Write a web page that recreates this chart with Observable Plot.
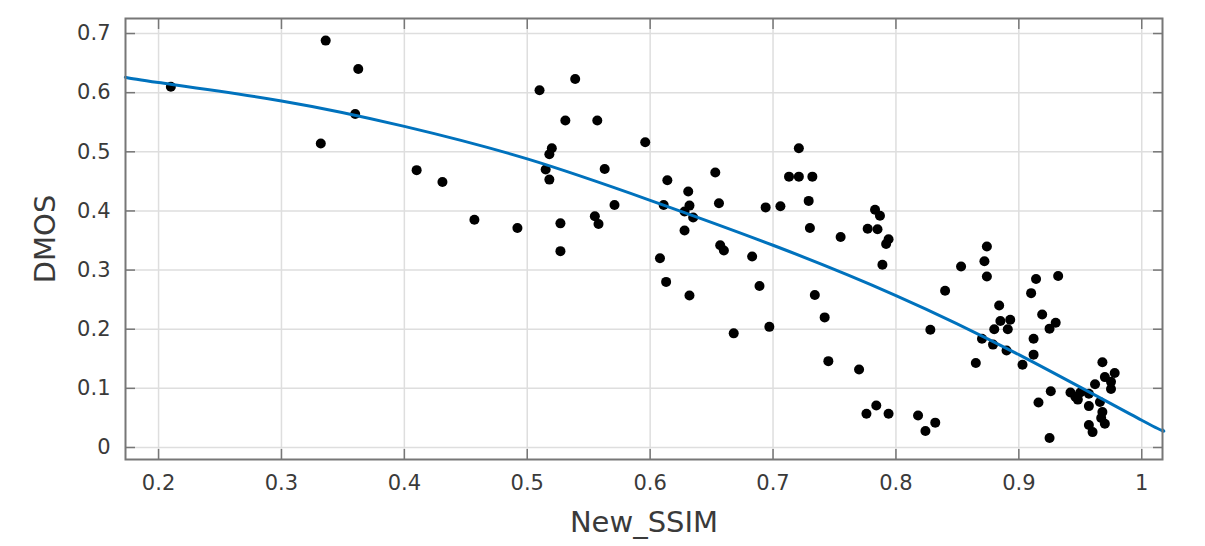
<!DOCTYPE html>
<html>
<head>
<meta charset="utf-8">
<script src="https://cdn.jsdelivr.net/npm/d3@7"></script>
<script src="https://cdn.jsdelivr.net/npm/@observablehq/plot@0.6"></script>
<style>
  html, body { margin: 0; padding: 0; background: #ffffff; }
  #chart svg {
    display: block;
    background:
      linear-gradient(#ffffff, #ffffff) top left / 100% 6px no-repeat,
      linear-gradient(#ffffff, #ffffff) top left / 7px 100% no-repeat,
      linear-gradient(#9a9a9a, #9a9a9a) bottom left / 100% 3px no-repeat,
      #f0f0f0;
  }
</style>
</head>
<body>
<div id="chart"></div>
<script>
// Scatter data: New_SSIM (x) vs DMOS (y)
const ssim = [
  0.210, 0.336, 0.3625, 0.360, 0.332, 0.410, 0.431, 0.457, 0.492, 0.510,
  0.539, 0.531, 0.557, 0.596, 0.520, 0.518, 0.515, 0.518, 0.563, 0.571,
  0.527, 0.555, 0.558, 0.527, 0.608, 0.614, 0.611, 0.631, 0.632, 0.628,
  0.635, 0.628, 0.653, 0.656, 0.657, 0.660, 0.613, 0.632, 0.683, 0.689,
  0.668, 0.697, 0.694, 0.706, 0.721, 0.713, 0.721, 0.732, 0.729, 0.730,
  0.734, 0.742, 0.755, 0.783, 0.787, 0.777, 0.785, 0.794, 0.792, 0.789,
  0.745, 0.770, 0.776, 0.784, 0.794, 0.818, 0.824, 0.832, 0.828, 0.840,
  0.853, 0.874, 0.872, 0.874, 0.884, 0.885, 0.893, 0.880, 0.891, 0.870,
  0.879, 0.890, 0.865, 0.903, 0.910, 0.914, 0.932, 0.919, 0.925, 0.930,
  0.912, 0.912, 0.926, 0.916, 0.925, 0.942, 0.946, 0.950, 0.948, 0.957,
  0.957, 0.962, 0.968, 0.970, 0.978, 0.975, 0.975, 0.966, 0.968, 0.967,
  0.970, 0.957, 0.960
];
const dmos = [
  0.610, 0.688, 0.640, 0.564, 0.514, 0.469, 0.449, 0.385, 0.371, 0.604,
  0.623, 0.553, 0.553, 0.516, 0.506, 0.496, 0.470, 0.453, 0.471, 0.410,
  0.379, 0.391, 0.378, 0.332, 0.320, 0.452, 0.410, 0.433, 0.409, 0.399,
  0.389, 0.367, 0.465, 0.413, 0.342, 0.333, 0.280, 0.257, 0.323, 0.273,
  0.193, 0.204, 0.406, 0.408, 0.506, 0.458, 0.458, 0.458, 0.417, 0.371,
  0.258, 0.220, 0.356, 0.402, 0.392, 0.370, 0.369, 0.352, 0.344, 0.309,
  0.146, 0.132, 0.057, 0.071, 0.057, 0.054, 0.028, 0.042, 0.199, 0.265,
  0.306, 0.340, 0.315, 0.289, 0.240, 0.214, 0.216, 0.200, 0.200, 0.184,
  0.174, 0.164, 0.143, 0.140, 0.261, 0.285, 0.290, 0.225, 0.201, 0.211,
  0.184, 0.157, 0.095, 0.076, 0.016, 0.093, 0.086, 0.093, 0.081, 0.070,
  0.091, 0.107, 0.144, 0.119, 0.126, 0.111, 0.099, 0.077, 0.060, 0.050,
  0.040, 0.038, 0.026
];

// Fitted curve
const fitX = [0.173, 0.2, 0.3, 0.4, 0.5, 0.6, 0.7, 0.8, 0.9, 1.0, 1.017];
const fitY = [0.626, 0.617, 0.586, 0.543, 0.488, 0.418, 0.342, 0.257, 0.157, 0.046, 0.030];

// Axis ticks
const xTicks = [0.2, 0.3, 0.4, 0.5, 0.6, 0.7, 0.8, 0.9, 1];
const yTicks = [0, 0.1, 0.2, 0.3, 0.4, 0.5, 0.6, 0.7];
const xLabel = "New_SSIM";
const yLabel = "DMOS";

const points = ssim.map((x, i) => ({x, y: dmos[i]}));
const fit = fitX.map((x, i) => ({x, y: fitY[i]}));

const axisColor = "#777777";
const textColor = "#3a3a3a";
const gridColor = "#dedede";
const fmt = d => String(d);

const chart = Plot.plot({
  width: 1205,
  height: 546,
  marginLeft: 125,
  marginRight: 43,
  marginTop: 18,
  marginBottom: 87,
  style: {fontFamily: "DejaVu Sans", fontSize: "21px", color: textColor, background: "transparent"},
  x: {domain: [0.1731, 1.0169]},
  y: {domain: [-0.0203, 0.7254]},
  marks: [
    Plot.frame({fill: "white", stroke: "none"}),
    Plot.gridX(xTicks, {stroke: gridColor, strokeOpacity: 1, strokeWidth: 1.5}),
    Plot.gridY(yTicks, {stroke: gridColor, strokeOpacity: 1, strokeWidth: 1.5}),
    Plot.dot(points, {x: "x", y: "y", r: 5, fill: "black", stroke: "none"}),
    Plot.line(fit, {x: "x", y: "y", curve: "natural", stroke: "#0072BD", strokeWidth: 3}),
    Plot.frame({stroke: axisColor, strokeWidth: 2}),
    Plot.axisX(xTicks, {anchor: "bottom", tickSize: -10, tickPadding: 26, tickFormat: fmt, stroke: axisColor, strokeWidth: 1.5, fill: textColor, fontSize: 21, label: null}),
    Plot.axisX(xTicks, {anchor: "top", tickSize: -10, tickFormat: () => "", stroke: axisColor, strokeWidth: 1.5, label: null}),
    Plot.axisY(yTicks, {anchor: "left", tickSize: -10, tickPadding: 25, tickFormat: fmt, stroke: axisColor, strokeWidth: 1.5, fill: textColor, fontSize: 21, label: null}),
    Plot.axisY(yTicks, {anchor: "right", tickSize: -10, tickFormat: () => "", stroke: axisColor, strokeWidth: 1.5, label: null}),
    Plot.text([xLabel], {frameAnchor: "bottom", dy: 63, text: d => d, fontSize: 29, fill: textColor, textAnchor: "middle", lineAnchor: "middle"}),
    Plot.text([yLabel], {frameAnchor: "left", dx: -80, text: d => d, rotate: -90, fontSize: 29, fill: textColor, textAnchor: "middle", lineAnchor: "middle"})
  ]
});

document.getElementById("chart").appendChild(chart);
</script>
</body>
</html>
